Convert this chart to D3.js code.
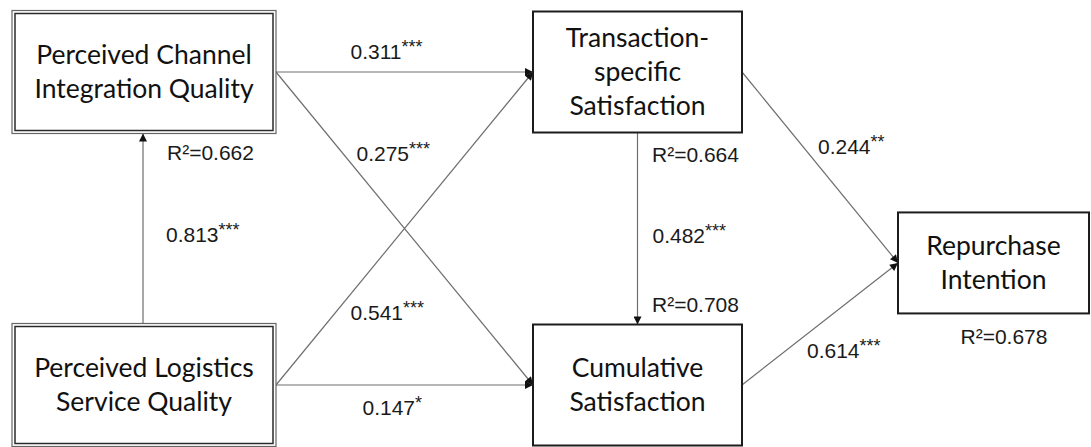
<!DOCTYPE html>
<html>
<head>
<meta charset="utf-8">
<script src="https://cdn.jsdelivr.net/npm/d3@7"></script>
<style>
  html, body { margin: 0; padding: 0; background: #fff; }
  #chart { width: 1091px; height: 447px; }
</style>
</head>
<body>
<div id="chart"></div>
<script>
// Constructs (nodes)
const nodeIds = ['PCIQ', 'PLSQ', 'TSS', 'CS', 'RI'];
const nodeLabels = [
  ['Perceived Channel', 'Integration Quality'],
  ['Perceived Logistics', 'Service Quality'],
  ['Transaction-', 'specific', 'Satisfaction'],
  ['Cumulative', 'Satisfaction'],
  ['Repurchase', 'Intention']
];
const nodeColumns = ['exogenous', 'exogenous', 'mediator', 'mediator', 'outcome'];
const nodeRows = [0, 1, 0, 1, 0.61];

// Structural paths
const pathFrom = ['PCIQ', 'PCIQ', 'PLSQ', 'PLSQ', 'PLSQ', 'TSS', 'TSS', 'CS'];
const pathTo = ['TSS', 'CS', 'TSS', 'CS', 'PCIQ', 'CS', 'RI', 'RI'];
const pathCoef = ['0.311', '0.275', '0.541', '0.147', '0.813', '0.482', '0.244', '0.614'];
const pathSig = ['***', '***', '***', '*', '***', '***', '**', '***'];

// Explained variance
const r2Nodes = ['PCIQ', 'TSS', 'CS', 'RI'];
const r2Values = ['0.662', '0.664', '0.708', '0.678'];

const width = 1091;
const height = 447;

const svg = d3.select('#chart')
  .append('svg')
  .attr('width', width)
  .attr('height', height)
  .attr('viewBox', `0 0 ${width} ${height}`);

// Layout scales
const xScale = d3.scaleOrdinal()
  .domain(['exogenous', 'mediator', 'outcome'])
  .range([144, 637.5, 993.5]);

const yScale = d3.scaleLinear()
  .domain([0, 1])
  .range([72, 385]);

const boxW = d3.scaleOrdinal().domain(['exogenous', 'mediator', 'outcome']).range([264, 209, 191]);
const boxH = d3.scaleOrdinal().domain(['exogenous', 'mediator', 'outcome']).range([123, 121, 101]);

const nodes = nodeIds.map((id, i) => {
  const col = nodeColumns[i];
  const cx = xScale(col);
  const cy = yScale(nodeRows[i]);
  const w = boxW(col);
  const h = boxH(col);
  return { id, lines: nodeLabels[i], col, cx, cy, w, h,
    x0: cx - w / 2, x1: cx + w / 2, y0: cy - h / 2, y1: cy + h / 2 };
});
const byId = new Map(nodes.map(n => [n.id, n]));

// Arrow marker
svg.append('defs')
  .append('marker')
  .attr('id', 'arrow')
  .attr('viewBox', '0 0 10 10')
  .attr('refX', 10)
  .attr('refY', 5)
  .attr('markerUnits', 'userSpaceOnUse')
  .attr('markerWidth', 9)
  .attr('markerHeight', 8)
  .attr('orient', 'auto')
  .append('path')
  .attr('d', 'M0,0 L10,5 L0,10 z')
  .attr('fill', '#111');

// Pick the side points an edge leaves / enters by
function endpoints(a, b) {
  if (a.col === b.col) {
    // vertical edge
    if (a.cy > b.cy) return [[a.cx - 1, a.y0], [b.cx - 1, b.y1]];
    return [[a.cx, a.y1], [b.cx, b.y0]];
  }
  return [[a.x1, a.cy], [b.x0, b.cy]];
}

const edges = pathFrom.map((f, i) => {
  const a = byId.get(f);
  const b = byId.get(pathTo[i]);
  const [p, q] = endpoints(a, b);
  return { from: f, to: pathTo[i], coef: pathCoef[i], sig: pathSig[i], p, q,
    mx: (p[0] + q[0]) / 2, my: (p[1] + q[1]) / 2 };
});

// Label offsets from edge midpoints (annotation layout)
const edgeLabelOffset = [
  [-54, -13], [-48, -68], [-54, 91], [-42, 30],
  [23, 13], [15, 14], [-2, -13], [-13, 34]
];

const edgeG = svg.append('g').attr('class', 'edges');
edgeG.selectAll('line')
  .data(edges)
  .enter()
  .append('line')
  .attr('x1', d => d.p[0])
  .attr('y1', d => d.p[1])
  .attr('x2', d => d.q[0])
  .attr('y2', d => d.q[1])
  .attr('stroke', '#6e6e6e')
  .attr('stroke-width', 1.2)
  .attr('marker-end', 'url(#arrow)');

// Boxes
const nodeG = svg.append('g').attr('class', 'nodes')
  .selectAll('g')
  .data(nodes)
  .enter()
  .append('g');

nodeG.append('rect')
  .attr('x', d => d.x0)
  .attr('y', d => d.y0)
  .attr('width', d => d.w)
  .attr('height', d => d.h)
  .attr('fill', '#fff')
  .attr('stroke', d => d.col === 'exogenous' ? '#666' : '#1c1c1c')
  .attr('stroke-width', d => d.col === 'exogenous' ? 1.2 : 2);

// inner line of the double border on exogenous constructs
nodeG.filter(d => d.col === 'exogenous')
  .append('rect')
  .attr('x', d => d.x0 + 3)
  .attr('y', d => d.y0 + 3)
  .attr('width', d => d.w - 6)
  .attr('height', d => d.h - 6)
  .attr('fill', 'none')
  .attr('stroke', '#2a2a2a')
  .attr('stroke-width', 1.5);

const lineGap = 34;
nodeG.append('text')
  .attr('text-anchor', 'middle')
  .attr('fill', '#111')
  .style('font-family', 'Lato, "Open Sans", sans-serif')
  .style('font-size', '26.5px')
  .selectAll('tspan')
  .data(d => d.lines.map((t, i) => ({ t, i, n: d.lines.length, d })))
  .enter()
  .append('tspan')
  .attr('x', o => o.d.cx)
  .attr('y', o => o.d.cy + (o.i - (o.n - 1) / 2) * lineGap + 9)
  .text(o => o.t);

// Path coefficient labels
const labelFont = '"Liberation Sans", Arial, sans-serif';
const coefText = svg.append('g').attr('class', 'coefs')
  .selectAll('text')
  .data(edges)
  .enter()
  .append('text')
  .attr('x', (d, i) => d.mx + edgeLabelOffset[i][0])
  .attr('y', (d, i) => d.my + edgeLabelOffset[i][1])
  .attr('fill', '#1a1a1a')
  .style('font-family', labelFont)
  .style('font-size', '21px');

coefText.append('tspan').text(d => d.coef);
coefText.append('tspan')
  .attr('dy', -6)
  .style('font-size', '18px')
  .text(d => d.sig);

// R-squared labels (offsets relative to box edges)
const r2Offset = {
  PCIQ: { side: 'bottom', dx: 23, dy: 26 },
  TSS: { side: 'bottom', dx: 14.5, dy: 29 },
  CS: { side: 'top', dx: 14.5, dy: -13 },
  RI: { side: 'bottom', dx: -33, dy: 31 }
};

svg.append('g').attr('class', 'r2')
  .selectAll('text')
  .data(r2Nodes.map((id, i) => ({ id, v: r2Values[i] })))
  .enter()
  .append('text')
  .attr('x', d => byId.get(d.id).cx + r2Offset[d.id].dx)
  .attr('y', d => {
    const n = byId.get(d.id);
    const o = r2Offset[d.id];
    return (o.side === 'bottom' ? n.y1 : n.y0) + o.dy;
  })
  .attr('fill', '#1a1a1a')
  .style('font-family', labelFont)
  .style('font-size', '21px')
  .text(d => `R²=${d.v}`);
</script>
</body>
</html>
